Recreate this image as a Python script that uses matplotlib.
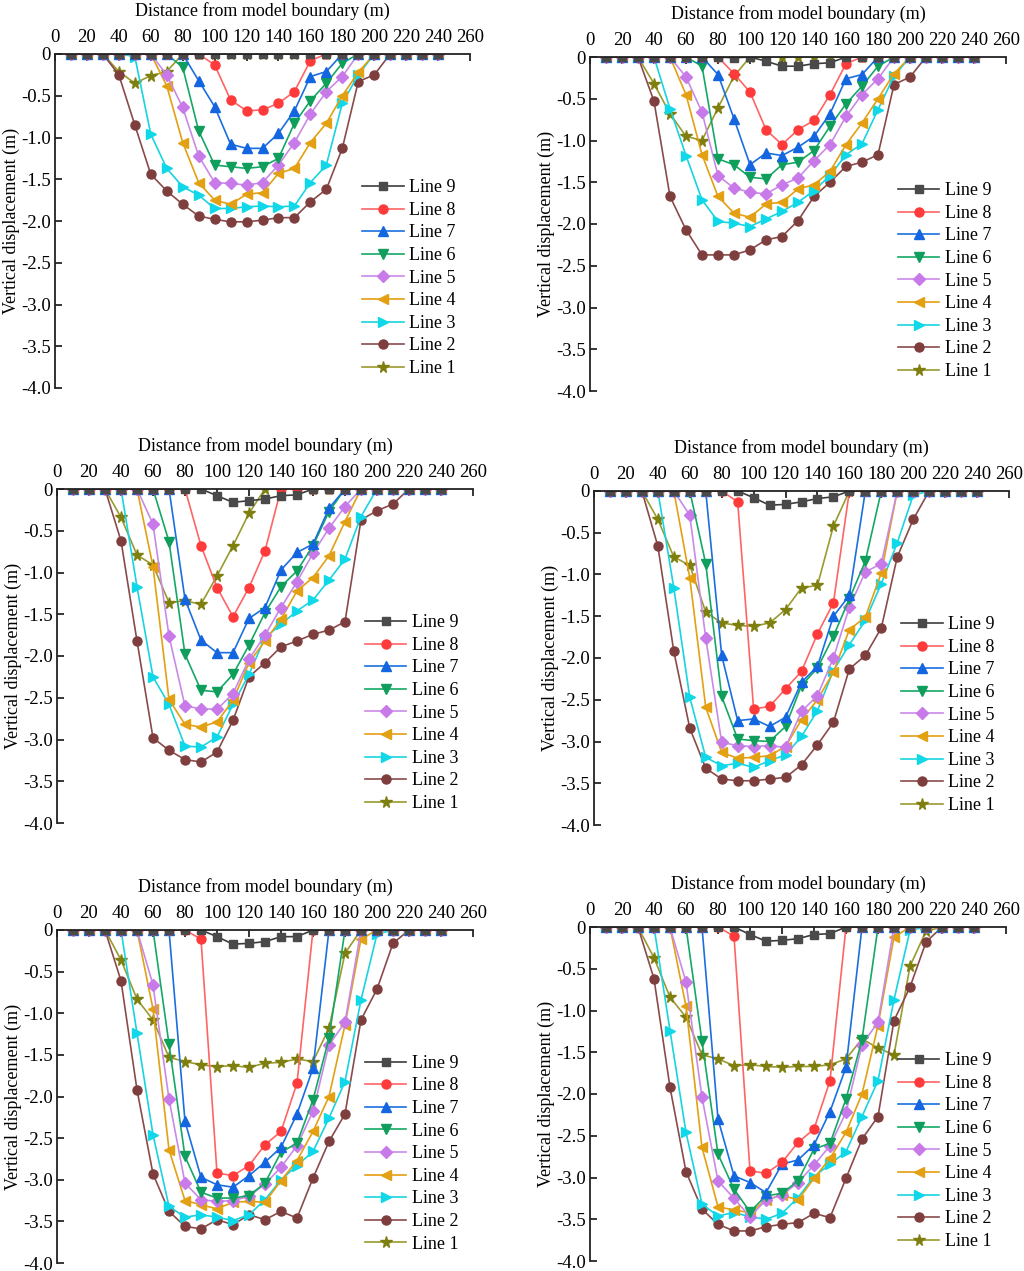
import matplotlib.pyplot as plt

plt.rcParams['font.family'] = ['Liberation Serif', 'DejaVu Serif']

# distance from model boundary (m), one reading every 10 m
x = list(range(10, 250, 10))

names = ['Line 9', 'Line 8', 'Line 7', 'Line 6', 'Line 5', 'Line 4', 'Line 3', 'Line 2', 'Line 1']
line_colors = ['#3c3c3c', '#ff6464', '#1a6fe0', '#14a866', '#c98ae6', '#e3a012', '#18d4e0', '#8a4a4a', '#9a9a30']
mark_colors = ['#4a4a4a', '#ff3a3a', '#1466e0', '#0f9e5c', '#c77ae8', '#e3a012', '#10d8e8', '#7e3e3e', '#7f7f10']
markers = ['s', 'o', '^', 'v', 'D', '<', '>', 'o', '*']
msizes = [5.8, 6.5, 6.8, 6.8, 5.8, 6.8, 6.8, 6.5, 8.5]

# vertical displacement (m), panel a (top left)
a9 = [0] * 24
a8 = [0, 0, 0, 0, 0, 0, 0, 0, 0, -0.13, -0.55, -0.68, -0.67, -0.59, -0.45, -0.08, 0, 0, 0, 0, 0, 0, 0, 0]
a7 = [0, 0, 0, 0, 0, 0, 0, 0, -0.32, -0.63, -1.08, -1.13, -1.13, -0.95, -0.68, -0.27, -0.21, 0, 0, 0, 0, 0, 0, 0]
a6 = [0, 0, 0, 0, 0, 0, 0, -0.16, -0.92, -1.33, -1.35, -1.37, -1.35, -1.25, -0.83, -0.56, -0.35, -0.11, 0, 0, 0, 0, 0, 0]
a5 = [0, 0, 0, 0, 0, 0, -0.25, -0.64, -1.22, -1.54, -1.55, -1.57, -1.54, -1.33, -1.06, -0.72, -0.45, -0.27, 0, 0, 0, 0, 0, 0]
a4 = [0, 0, 0, 0, 0, 0, -0.38, -1.06, -1.54, -1.75, -1.80, -1.68, -1.66, -1.43, -1.37, -1.06, -0.83, -0.50, -0.22, 0, 0, 0, 0, 0]
a3 = [0, 0, 0, 0, -0.03, -0.96, -1.37, -1.59, -1.69, -1.85, -1.85, -1.83, -1.82, -1.83, -1.82, -1.54, -1.33, -0.59, -0.25, 0, 0, 0, 0, 0]
a2 = [0, 0, 0, -0.25, -0.85, -1.44, -1.64, -1.80, -1.94, -1.98, -2.01, -2.01, -1.99, -1.96, -1.96, -1.77, -1.62, -1.13, -0.33, -0.25, 0, 0, 0, 0]
a1 = [0, 0, 0, -0.21, -0.35, -0.26, -0.21, 0, 0, 0, 0, 0, 0, 0, 0, 0, 0, 0, 0, 0, 0, 0, 0, 0]

# panel b (top right)
b9 = [0, 0, 0, 0, 0, 0, 0, 0, -0.01, 0, -0.05, -0.11, -0.11, -0.08, -0.07, 0, 0, 0, 0, 0, 0, 0, 0, 0]
b8 = [0, 0, 0, 0, 0, 0, 0, 0, -0.20, -0.42, -0.87, -1.05, -0.87, -0.76, -0.45, -0.08, 0, 0, 0, 0, 0, 0, 0, 0]
b7 = [0, 0, 0, 0, 0, 0, 0, -0.21, -0.74, -1.29, -1.15, -1.18, -1.08, -0.95, -0.68, -0.26, -0.21, 0, 0, 0, 0, 0, 0, 0]
b6 = [0, 0, 0, 0, 0, 0, -0.11, -1.22, -1.29, -1.44, -1.46, -1.29, -1.26, -1.12, -0.83, -0.56, -0.35, -0.11, 0, 0, 0, 0, 0, 0]
b5 = [0, 0, 0, 0, 0, -0.24, -0.66, -1.42, -1.57, -1.62, -1.64, -1.53, -1.45, -1.24, -1.05, -0.71, -0.45, -0.26, 0, 0, 0, 0, 0, 0]
b4 = [0, 0, 0, 0, 0, -0.45, -1.17, -1.67, -1.87, -1.92, -1.76, -1.74, -1.58, -1.53, -1.37, -1.05, -0.79, -0.50, -0.20, 0, 0, 0, 0, 0]
b3 = [0, 0, 0, 0, -0.62, -1.18, -1.71, -1.97, -1.99, -2.03, -1.94, -1.85, -1.74, -1.60, -1.42, -1.17, -1.04, -0.63, -0.23, 0, 0, 0, 0, 0]
b2 = [0, 0, 0, -0.53, -1.67, -2.07, -2.37, -2.37, -2.37, -2.31, -2.19, -2.15, -1.96, -1.67, -1.50, -1.31, -1.26, -1.17, -0.33, -0.24, 0, 0, 0, 0]
b1 = [0, 0, 0, -0.32, -0.68, -0.95, -1.00, -0.61, -0.23, 0, 0, 0, 0, 0, 0, 0, 0, 0, 0, 0, 0, 0, 0, 0]

# panel c (middle left)
c9 = [0, 0, 0, 0, 0, 0, 0, 0, 0, -0.08, -0.16, -0.14, -0.12, -0.08, -0.07, 0, 0, 0, 0, 0, 0, 0, 0, 0]
c8 = [0, 0, 0, 0, 0, 0, 0, 0, -0.68, -1.18, -1.53, -1.18, -0.74, 0, 0, 0, 0, 0, 0, 0, 0, 0, 0, 0]
c7 = [0, 0, 0, 0, 0, 0, 0, -1.32, -1.81, -1.96, -1.96, -1.55, -1.42, -0.97, -0.76, -0.66, -0.23, 0, 0, 0, 0, 0, 0, 0]
c6 = [0, 0, 0, 0, 0, 0, -0.63, -1.98, -2.41, -2.43, -2.22, -1.87, -1.48, -1.17, -0.98, -0.68, -0.27, 0, 0, 0, 0, 0, 0, 0]
c5 = [0, 0, 0, 0, 0, -0.42, -1.76, -2.60, -2.63, -2.64, -2.45, -2.04, -1.75, -1.42, -1.11, -0.77, -0.47, -0.21, 0, 0, 0, 0, 0, 0]
c4 = [0, 0, 0, 0, 0, -0.93, -2.52, -2.82, -2.85, -2.79, -2.53, -2.08, -1.82, -1.56, -1.22, -1.06, -0.80, -0.39, 0, 0, 0, 0, 0, 0]
c3 = [0, 0, 0, 0, -1.17, -2.25, -2.58, -3.08, -3.09, -2.97, -2.58, -2.22, -1.78, -1.62, -1.46, -1.33, -1.09, -0.84, -0.33, 0, 0, 0, 0, 0]
c2 = [0, 0, 0, -0.62, -1.82, -2.98, -3.13, -3.24, -3.27, -3.15, -2.77, -2.25, -2.08, -1.89, -1.82, -1.74, -1.69, -1.59, -0.37, -0.26, -0.18, 0, 0, 0]
c1 = [0, 0, 0, -0.34, -0.79, -0.91, -1.36, -1.34, -1.38, -1.04, -0.68, -0.29, 0, 0, 0, 0, 0, 0, 0, 0, 0, 0, 0, 0]

# panel d (middle right)
d9 = [0, 0, 0, 0, 0, 0, 0, 0, 0, -0.08, -0.17, -0.16, -0.13, -0.09, -0.07, 0, 0, 0, 0, 0, 0, 0, 0, 0]
d8 = [0, 0, 0, 0, 0, 0, 0, 0, -0.13, -2.61, -2.58, -2.37, -2.16, -1.71, -1.34, 0, 0, 0, 0, 0, 0, 0, 0, 0]
d7 = [0, 0, 0, 0, 0, 0, 0, -1.97, -2.75, -2.73, -2.82, -2.71, -2.29, -2.10, -1.50, -1.25, 0, 0, 0, 0, 0, 0, 0, 0]
d6 = [0, 0, 0, 0, 0, 0, -0.87, -2.46, -2.97, -2.99, -3.00, -2.82, -2.33, -2.12, -1.74, -1.29, -0.84, 0, 0, 0, 0, 0, 0, 0]
d5 = [0, 0, 0, 0, 0, -0.29, -1.76, -3.01, -3.05, -3.06, -3.05, -3.07, -2.64, -2.45, -2.00, -1.39, -0.97, -0.87, 0, 0, 0, 0, 0, 0]
d4 = [0, 0, 0, 0, 0, -1.04, -2.59, -3.13, -3.20, -3.19, -3.17, -3.06, -2.74, -2.50, -2.17, -1.66, -1.51, -0.98, 0, 0, 0, 0, 0, 0]
d3 = [0, 0, 0, 0, -1.16, -2.47, -3.19, -3.29, -3.26, -3.31, -3.23, -3.16, -2.94, -2.63, -2.15, -1.84, -1.55, -1.11, -0.62, -0.05, 0, 0, 0, 0]
d2 = [0, 0, 0, -0.66, -1.92, -2.84, -3.32, -3.45, -3.47, -3.47, -3.45, -3.43, -3.28, -3.04, -2.77, -2.13, -1.97, -1.64, -0.79, -0.34, 0, 0, 0, 0]
d1 = [0, 0, 0, -0.34, -0.79, -0.89, -1.45, -1.58, -1.61, -1.62, -1.58, -1.42, -1.16, -1.13, -0.42, 0, 0, 0, 0, 0, 0, 0, 0, 0]

# panel e (bottom left)
e9 = [0, 0, 0, 0, 0, 0, 0, 0, 0, -0.08, -0.17, -0.16, -0.14, -0.08, -0.08, 0, 0, 0, 0, 0, 0, 0, 0, 0]
e8 = [0, 0, 0, 0, 0, 0, 0, 0, -0.11, -2.92, -2.95, -2.83, -2.58, -2.42, -1.84, 0, 0, 0, 0, 0, 0, 0, 0, 0]
e7 = [0, 0, 0, 0, 0, 0, 0, -2.30, -2.97, -3.06, -3.09, -2.95, -2.79, -2.61, -2.21, -1.66, 0, 0, 0, 0, 0, 0, 0, 0]
e6 = [0, 0, 0, 0, 0, 0, -1.37, -2.72, -3.15, -3.22, -3.22, -3.19, -3.04, -2.67, -2.56, -2.04, -1.30, 0, 0, 0, 0, 0, 0, 0]
e5 = [0, 0, 0, 0, 0, -0.66, -2.03, -3.04, -3.24, -3.26, -3.25, -3.20, -3.05, -2.85, -2.59, -2.18, -1.38, -1.11, 0, 0, 0, 0, 0, 0]
e4 = [0, 0, 0, 0, 0, -0.95, -2.64, -3.25, -3.30, -3.35, -3.27, -3.26, -3.27, -3.01, -2.77, -2.42, -2.00, -1.14, -0.11, 0, 0, 0, 0, 0]
e3 = [0, 0, 0, 0, -1.24, -2.46, -3.32, -3.45, -3.42, -3.45, -3.49, -3.42, -3.24, -3.00, -2.83, -2.66, -2.26, -1.82, -0.84, -0.05, 0, 0, 0, 0]
e2 = [0, 0, 0, -0.61, -1.92, -2.93, -3.38, -3.56, -3.59, -3.48, -3.54, -3.42, -3.48, -3.38, -3.46, -2.98, -2.54, -2.21, -1.08, -0.71, -0.16, 0, 0, 0]
e1 = [0, 0, 0, -0.36, -0.83, -1.08, -1.53, -1.58, -1.62, -1.64, -1.63, -1.65, -1.60, -1.59, -1.55, -1.58, -1.18, -0.28, 0, 0, 0, 0, 0, 0]

# panel f (bottom right)
f9 = [0, 0, 0, 0, 0, 0, 0, 0, 0, -0.09, -0.17, -0.16, -0.14, -0.09, -0.08, 0, 0, 0, 0, 0, 0, 0, 0, 0]
f8 = [0, 0, 0, 0, 0, 0, 0, 0, -0.11, -2.92, -2.95, -2.82, -2.58, -2.42, -1.84, 0, 0, 0, 0, 0, 0, 0, 0, 0]
f7 = [0, 0, 0, 0, 0, 0, 0, -2.30, -2.98, -3.06, -3.18, -2.84, -2.79, -2.61, -2.21, -1.68, 0, 0, 0, 0, 0, 0, 0, 0]
f6 = [0, 0, 0, 0, 0, 0, -1.37, -2.72, -3.14, -3.41, -3.22, -3.19, -3.04, -2.66, -2.59, -2.06, -1.35, 0, 0, 0, 0, 0, 0, 0]
f5 = [0, 0, 0, 0, 0, -0.66, -2.04, -3.04, -3.25, -3.47, -3.27, -3.21, -3.06, -2.85, -2.62, -2.22, -1.41, -1.14, 0, 0, 0, 0, 0, 0]
f4 = [0, 0, 0, 0, 0, -0.95, -2.64, -3.35, -3.39, -3.42, -3.27, -3.21, -3.27, -3.01, -2.77, -2.46, -2.00, -1.18, -0.12, 0, 0, 0, 0, 0]
f3 = [0, 0, 0, 0, -1.24, -2.46, -3.32, -3.46, -3.42, -3.47, -3.50, -3.43, -3.24, -2.99, -2.84, -2.69, -2.27, -1.84, -0.87, -0.04, 0, 0, 0, 0]
f2 = [0, 0, 0, -0.62, -1.92, -2.93, -3.38, -3.56, -3.64, -3.64, -3.59, -3.56, -3.54, -3.43, -3.48, -3.01, -2.54, -2.27, -1.12, -0.72, -0.18, 0, 0, 0]
f1 = [0, 0, 0, -0.37, -0.84, -1.08, -1.53, -1.58, -1.66, -1.65, -1.67, -1.68, -1.67, -1.67, -1.65, -1.58, -1.34, -1.45, -1.53, -0.47, -0.05, 0, 0, 0]

panels = [
    [a9, a8, a7, a6, a5, a4, a3, a2, a1],
    [b9, b8, b7, b6, b5, b4, b3, b2, b1],
    [c9, c8, c7, c6, c5, c4, c3, c2, c1],
    [d9, d8, d7, d6, d5, d4, d3, d2, d1],
    [e9, e8, e7, e6, e5, e4, e3, e2, e1],
    [f9, f8, f7, f6, f5, f4, f3, f2, f1],
]

# axes boxes in figure pixels: left, right, top, bottom
W, H = 1024, 1271
boxes = [
    (55, 470, 54, 388), (590, 1006, 57, 391),
    (57, 473, 489, 823), (594, 1009, 491, 825),
    (57, 473, 930, 1263), (590, 1006, 927, 1261),
]

fig = plt.figure(figsize=(W / 100, H / 100), dpi=100)

for box, series in zip(boxes, panels):
    l, r, t, b = box
    ax = fig.add_axes([l / W, 1 - b / H, (r - l) / W, (b - t) / H])
    for i in range(9):
        ax.plot(x, series[i], color=line_colors[i], lw=1.2, marker=markers[i],
                ms=msizes[i], mfc=mark_colors[i], mec=mark_colors[i], label=names[i],
                zorder=3 + (9 - i) * 0.1)
    ax.set_xlim(0, 260)
    ax.set_ylim(-4.0, 0)
    ax.set_xticks(range(0, 261, 20))
    ax.set_yticks([0, -0.5, -1.0, -1.5, -2.0, -2.5, -3.0, -3.5, -4.0])
    ax.set_yticklabels(['0', '-0.5', '-1.0', '-1.5', '-2.0', '-2.5', '-3.0', '-3.5', '-4.0'])
    ax.xaxis.tick_top()
    ax.xaxis.set_label_position('top')
    ax.spines['bottom'].set_visible(False)
    ax.spines['right'].set_visible(False)
    for s in ('top', 'left'):
        ax.spines[s].set_linewidth(1.3)
        ax.spines[s].set_color('#222222')
        ax.spines[s].set_zorder(5)
    ax.tick_params(axis='both', direction='in', length=5, width=1.1, labelsize=13.5, pad=3)
    ax.tick_params(axis='x', pad=6)
    ax.set_xlabel('Distance from model boundary (m)', fontsize=13, labelpad=9)
    ax.set_ylabel('Vertical displacement (m)', fontsize=13, labelpad=1)
    ax.legend(loc='upper left', bbox_to_anchor=(0.74, 0.625), frameon=False,
              fontsize=13, handlelength=2.3, handletextpad=0.3, labelspacing=0.31,
              borderpad=0, borderaxespad=0)

fig.savefig('out.png', dpi=100)
